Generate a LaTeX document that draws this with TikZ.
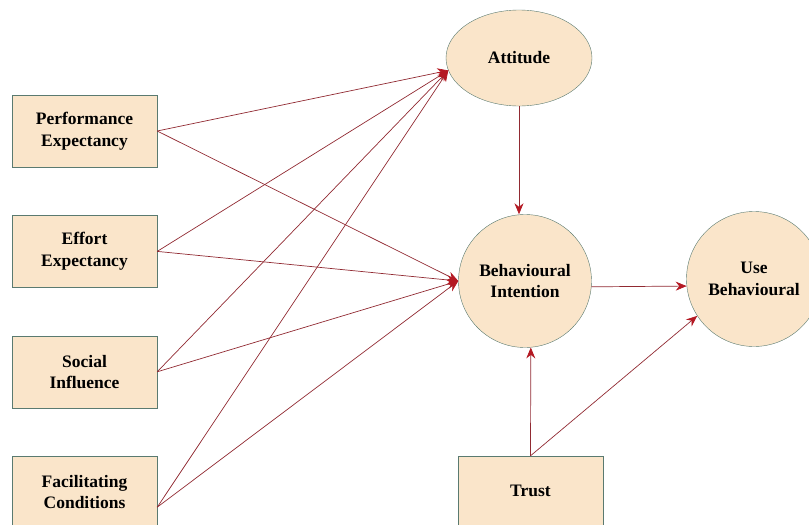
\documentclass[tikz,border=0pt]{standalone}
\usepackage{fontspec}
\setmainfont{Liberation Serif}
\definecolor{myfill}{RGB}{250,229,202}
\definecolor{myborder}{RGB}{90,122,112}
\definecolor{myline}{RGB}{145,42,50}
\definecolor{myhead}{RGB}{180,25,35}
\usetikzlibrary{positioning,chains,shapes,arrows.meta}

\begin{document}
\begin{tikzpicture}[x=1pt,y=1pt,
        every node/.style={draw=myborder,fill=myfill,align=center,
          font=\bfseries\fontsize{17.5}{21.5}\selectfont},
        cbox/.style={rectangle,minimum width=145pt,minimum height=72pt},
        cnode/.style={circle,inner sep=0pt},
        link/.style={draw=myline,line width=0.7pt,
          -{Stealth[color=myhead,length=11pt,width=9pt]}}
        ]
        \useasboundingbox (0,0) rectangle (809,-525);

        % the constructs on the left
        \begin{scope}[start chain=going below,node distance=48pt]
        \node[cbox,on chain] (pe) at (84.5,-131) {Performance\\Expectancy};
        \node[cbox,on chain] (ee) {Effort\\Expectancy};
        \node[cbox,on chain] (si) {Social\\Influence};
        \node[cbox,on chain] (fc) {Facilitating\\Conditions};
        \end{scope}

        % the constructs on the right
        \node[ellipse,minimum width=146pt,minimum height=96pt] (att) at (519,-58) {Attitude};
        \node[cnode,minimum size=133pt] (bi) at (525,-281) {Behavioural\\Intention};
        \node[cnode,minimum size=135pt] (ub) at (754,-279) {Use\\Behavioural};
        \node[cbox,minimum height=70pt] (trust) at (530.5,-491) {Trust};

        % the edges
        \draw[link] (pe.east) -- (att.190);
        \draw[link] (ee.east) -- (att.190);
        \draw[link] (si.east) -- (att.190);
        \draw[link] ([yshift=-15pt]fc.east) -- (att.190);
        \draw[link] (pe.east) -- (bi.west);
        \draw[link] (ee.east) -- (bi.west);
        \draw[link] (si.east) -- (bi.west);
        \draw[link] ([yshift=-15pt]fc.east) -- (bi.west);
        \draw[link] (att.south) -- (bi.north -| att.south);
        \draw[link] (bi.-5) -- (ub.186);
        \draw[link] (trust.north) -- (bi.-85);
        \draw[link] (trust.north) -- (ub.213);
        \end{tikzpicture}
\end{document}
